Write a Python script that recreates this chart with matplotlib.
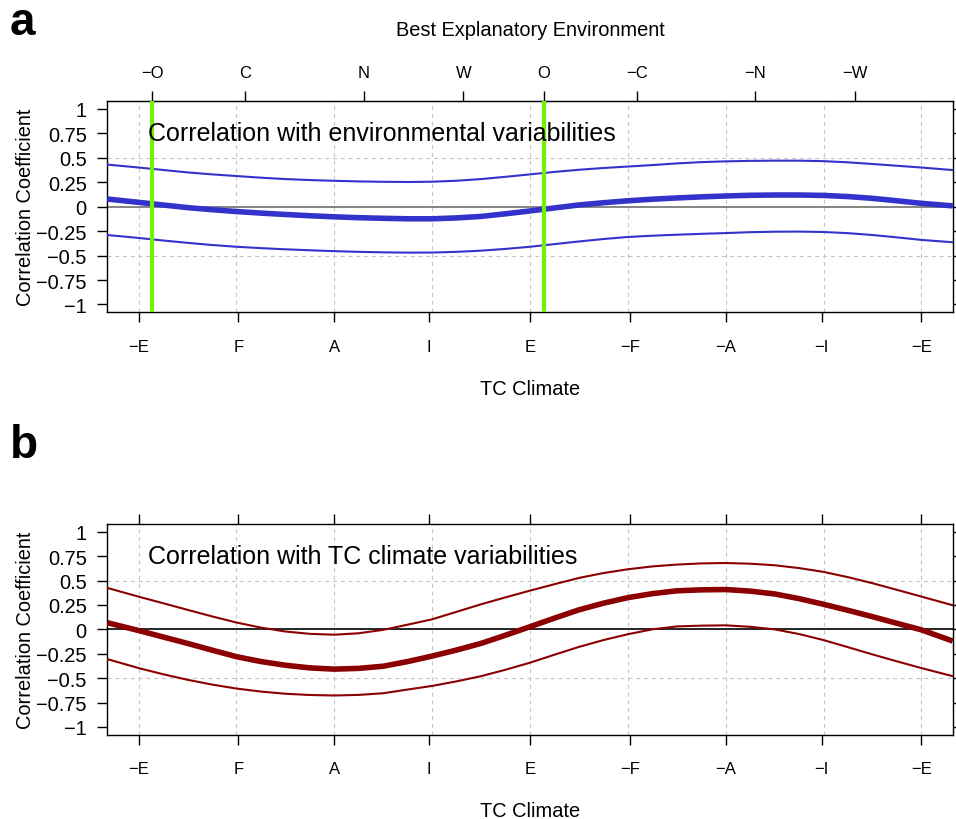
import numpy as np
import matplotlib
matplotlib.use("Agg")
import matplotlib.pyplot as plt

plt.rcParams['font.family'] = ['Liberation Sans', 'DejaVu Sans']

# positions along the TC climate axis (one unit per grid line)
x = [-0.32, 0, 0.25, 0.5, 0.75, 1, 1.25, 1.5, 1.75, 2, 2.25, 2.5, 2.75, 3, 3.25, 3.5,
     3.75, 4, 4.25, 4.5, 4.75, 5, 5.25, 5.5, 5.75, 6, 6.25, 6.5, 6.75, 7, 7.25, 7.5,
     7.75, 8, 8.32]

# panel a: correlation with environmental variabilities
env_hi = [0.43, 0.40, 0.375, 0.35, 0.33, 0.313, 0.296, 0.282, 0.272, 0.264, 0.258, 0.254,
          0.252, 0.255, 0.265, 0.282, 0.305, 0.33, 0.355, 0.377, 0.395, 0.41, 0.425, 0.442,
          0.455, 0.463, 0.468, 0.47, 0.47, 0.465, 0.453, 0.436, 0.418, 0.40, 0.374]
env_mid = [0.078, 0.044, 0.017, -0.01, -0.031, -0.05, -0.066, -0.08, -0.093, -0.104, -0.113,
           -0.119, -0.124, -0.124, -0.115, -0.10, -0.073, -0.044, -0.013, 0.017, 0.04, 0.06,
           0.076, 0.089, 0.1, 0.109, 0.116, 0.119, 0.119, 0.115, 0.103, 0.085, 0.06, 0.034,
           0.008]
env_lo = [-0.29, -0.32, -0.346, -0.37, -0.392, -0.41, -0.424, -0.436, -0.446, -0.455, -0.462,
          -0.467, -0.47, -0.469, -0.462, -0.45, -0.432, -0.41, -0.383, -0.356, -0.331, -0.31,
          -0.297, -0.287, -0.278, -0.27, -0.261, -0.256, -0.255, -0.259, -0.271, -0.29,
          -0.314, -0.34, -0.364]

# panel b: correlation with TC climate variabilities
tc_hi = [0.425, 0.335, 0.268, 0.2, 0.133, 0.07, 0.018, -0.022, -0.046, -0.055, -0.04, -0.005,
         0.048, 0.103, 0.18, 0.257, 0.328, 0.397, 0.463, 0.527, 0.577, 0.616, 0.645, 0.664,
         0.676, 0.68, 0.673, 0.657, 0.628, 0.589, 0.535, 0.473, 0.405, 0.336, 0.247]
tc_mid = [0.068, -0.012, -0.078, -0.144, -0.213, -0.28, -0.33, -0.368, -0.395, -0.408, -0.4,
          -0.378, -0.33, -0.274, -0.212, -0.144, -0.06, 0.027, 0.115, 0.2, 0.268, 0.325,
          0.366, 0.395, 0.405, 0.408, 0.392, 0.363, 0.315, 0.257, 0.195, 0.13, 0.062,
          -0.005, -0.12]
tc_lo = [-0.305, -0.397, -0.46, -0.517, -0.566, -0.607, -0.638, -0.66, -0.673, -0.678, -0.672,
         -0.655, -0.617, -0.58, -0.533, -0.48, -0.414, -0.342, -0.26, -0.18, -0.11, -0.05,
         0.0, 0.03, 0.038, 0.041, 0.026, 0.0, -0.048, -0.11, -0.183, -0.257, -0.328, -0.397,
         -0.48]

climate_ticks = [0, 1.02, 2, 2.97, 4, 5.02, 6, 6.98, 8]
climate_labels = ["\u2212E", "F", "A", "I", "E", "\u2212F", "\u2212A", "\u2212I", "\u2212E"]
env_ticks = [0.14, 1.085, 2.30, 3.32, 4.14, 5.09, 6.30, 7.32]
env_labels = ["\u2212O", "C", "N", "W", "O", "\u2212C", "\u2212N", "\u2212W"]
best_env = ["\u2212O", "O"]

y_ticks = [-1, -0.75, -0.5, -0.25, 0, 0.25, 0.5, 0.75, 1]
y_labels = [f"{v:g}".replace("-", "\u2212") for v in y_ticks]

W, H = 956, 820
fig = plt.figure(figsize=(W / 100, H / 100), dpi=100)
ax_a = fig.add_axes([107.3 / W, 1 - 313.3 / H, 845.4 / W, 211.3 / H])
ax_b = fig.add_axes([107.3 / W, 1 - 735.7 / H, 845.4 / W, 210.7 / H])


def setup(ax, zero_color):
    ax.set_xlim(-0.32, 8.32)
    ax.set_ylim(-1.08, 1.08)
    for g in range(9):
        ax.axvline(g, color='#c4c4c4', lw=0.8, ls=(0, (3.5, 3.5)), zorder=1)
    for g in (-0.5, 0.5):
        ax.axhline(g, color='#c4c4c4', lw=0.8, ls=(0, (3.5, 3.5)), zorder=1)
    ax.axhline(0, color=zero_color, lw=1.2, zorder=2)
    ax.set_xticks(climate_ticks, climate_labels)
    ax.set_yticks(y_ticks, y_labels)
    ax.tick_params(axis='x', direction='out', length=7.5, width=1,
                   labelsize=12, pad=11.5)
    ax.tick_params(axis='y', direction='out', length=7.5, width=1,
                   labelsize=14.4, pad=7.3, right=True)
    ax.set_xlabel("TC Climate", fontsize=14.4)
    ax.xaxis.set_label_coords(0.5, -0.316)
    ax.set_ylabel("Correlation Coefficient", fontsize=14.4)
    ax.yaxis.set_label_coords(-0.0855, 0.5)
    for s in ax.spines.values():
        s.set_linewidth(1.0)


# panel a
setup(ax_a, '#707070')
blue = '#3333cc'
ax_a.plot(x, env_hi, color=blue, lw=1.5, zorder=3)
ax_a.plot(x, env_lo, color=blue, lw=1.5, zorder=3)
ax_a.plot(x, env_mid, color=blue, lw=4, zorder=3, solid_capstyle='butt')
for lab in best_env:
    ax_a.axvline(env_ticks[env_labels.index(lab)], color='#74f000', lw=3, zorder=4)
ax_a.text(0.1, 0.68, "Correlation with environmental variabilities",
          fontsize=18, va='baseline', zorder=5)

sec = ax_a.secondary_xaxis('top')
sec.set_ticks(env_ticks, labels=env_labels)
sec.tick_params(direction='out', length=7.5, width=1, labelsize=12, pad=7.5)
fig.text(530 / W, 1 - 36 / H, "Best Explanatory Environment", fontsize=14.4,
         ha='center', va='baseline')

# panel b
setup(ax_b, 'black')
red = '#8b0000'
ax_b.plot(x, tc_hi, color=red, lw=1.5, zorder=3)
ax_b.plot(x, tc_lo, color=red, lw=1.5, zorder=3)
ax_b.plot(x, tc_mid, color=red, lw=4, zorder=3, solid_capstyle='butt')
ax_b.tick_params(axis='x', top=True)
ax_b.text(0.1, 0.68, "Correlation with TC climate variabilities",
          fontsize=18, va='baseline', zorder=5)

fig.text(10 / W, 1 - 35 / H, "a", fontsize=33, fontweight='bold', va='baseline')
fig.text(10 / W, 1 - 458 / H, "b", fontsize=33, fontweight='bold', va='baseline')

fig.savefig("out.png", dpi=100)
